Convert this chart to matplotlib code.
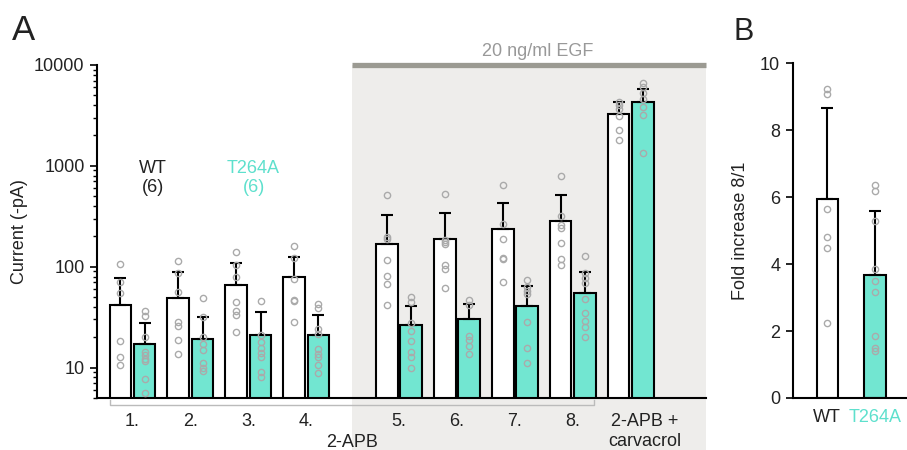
import numpy as np
import matplotlib
matplotlib.use("Agg")
import matplotlib.pyplot as plt
from matplotlib.transforms import ScaledTranslation, blended_transform_factory
from matplotlib.patches import Rectangle

plt.rcParams['font.family'] = ['Liberation Sans', 'DejaVu Sans']
plt.rcParams['text.color'] = '#222222'
plt.rcParams['xtick.labelcolor'] = '#222222'
plt.rcParams['ytick.labelcolor'] = '#222222'
plt.rcParams['axes.labelcolor'] = '#222222'

# panel A data: mean, upper error, individual cells (current, -pA)
conditions = ['1.', '2.', '3.', '4.', '5.', '6.', '7.', '8.', '2-APB +\ncarvacrol']
positions = [0, 1, 2, 3, 4.6, 5.6, 6.6, 7.6, 8.6]

wt_mean = [41.4, 49.3, 65.8, 78.4, 167, 188, 238, 285, 3297]
wt_err = [77.8, 87.9, 110, 125, 327, 343, 433, 520, 4266]
wt_points = [
    [106, 71, 54.4, 18.4, 12.8, 10.6],
    [115, 87, 55.7, 28.5, 26, 18.8, 13.5],
    [141, 104, 79.7, 45, 36.6, 33.2, 22.7],
    [160, 121, 75, 46.8, 46, 28.1],
    [509, 198, 188, 117, 80.8, 67.9, 41.4],
    [525, 186, 177, 168, 105, 94, 62],
    [648, 264, 189, 121, 118, 70],
    [802, 320, 262, 240, 173, 118, 105],
    [4270, 3985, 3700, 3100, 2255, 1824],
]

mut_mean = [17.1, 19.2, 21.0, 20.9, 26.4, 30.1, 41.1, 54.4, 4335]
mut_err = [27.7, 31.8, 35.6, 33.0, 41.1, 42.4, 64.9, 88.5, 5830]
mut_points = [
    [36.6, 32.5, 20, 14.2, 13.2, 12.1, 11.7, 7.7, 5.6],
    [48.6, 31.5, 20, 17.1, 15, 11, 9.8, 9.3],
    [46, 21, 18.1, 15.5, 13.9, 12.7, 9.1, 8.1],
    [42.4, 39.3, 24.2, 21.4, 15.2, 13.7, 12.6, 10.6, 8.8],
    [49.7, 45, 27.5, 23.1, 18.4, 14.4, 12.7, 10],
    [46.8, 41.7, 20.7, 18.8, 16.5, 13.7],
    [73.8, 62.4, 57.8, 53.6, 28.1, 15.8, 11],
    [129, 85.9, 76.6, 68.4, 47.9, 35.1, 29, 25.1, 20],
    [6690, 6055, 5280, 4645, 3840, 3178, 1346],
]

# panel B data: fold increase 8/1
fold_groups = ['WT', 'T264A']
fold_mean = [5.93, 3.67]
fold_err = [8.66, 5.59]
fold_points = [
    [9.24, 9.09, 5.64, 4.82, 4.47, 2.25],
    [6.36, 6.19, 5.28, 3.84, 3.5, 3.18, 1.86, 1.49, 1.39],
]

TEAL = '#72e6d1'
TEAL_TXT = '#5ee0cd'
PT_COL = '#aaaaaa'
FS = 13


def draw_group(ax, x, mean, err, pts, color, width):
    ax.bar(x, mean, width=width, color=color, edgecolor='black', linewidth=1.5, zorder=2)
    ax.errorbar(x, mean, yerr=[[0], [err - mean]], fmt='none', ecolor='black',
                elinewidth=1.5, capsize=4, capthick=1.5, zorder=3)
    ax.plot([x] * len(pts), pts, 'o', ms=4.5, mfc='none', mec=PT_COL, mew=1, zorder=4)


fig = plt.figure(figsize=(9.07, 4.5), dpi=100)
axA = fig.add_axes([0.107, 0.1156, 0.671, 0.74])
axB = fig.add_axes([0.874, 0.1156, 0.126, 0.744])

# ---- panel A ----
w = 0.37
off = 0.21
for i, x in enumerate(positions):
    draw_group(axA, x - off, wt_mean[i], wt_err[i], wt_points[i], 'white', w)
    draw_group(axA, x + off, mut_mean[i], mut_err[i], mut_points[i], TEAL, w)

axA.set_yscale('log')
axA.set_ylim(5, 10000)
axA.set_xlim(-0.61, 9.89)
axA.set_yticks([10, 100, 1000, 10000])
axA.set_yticklabels(['10', '100', '1000', '10000'])
axA.set_xticks(positions)
axA.set_xticklabels(conditions)
axA.tick_params(axis='x', length=0, pad=11, labelsize=FS)
axA.tick_params(axis='y', which='major', length=5, width=1.2, labelsize=FS, pad=4)
axA.tick_params(axis='y', which='minor', length=3, width=1)
axA.set_ylabel('Current (-pA)', fontsize=FS, labelpad=4)
for s in ['top', 'right']:
    axA.spines[s].set_visible(False)
for s in ['left', 'bottom']:
    axA.spines[s].set_linewidth(1.5)
axA.patch.set_alpha(0)

lbl = axA.get_xticklabels()[-1]
lbl.set_transform(lbl.get_transform() + ScaledTranslation(0.14, 0, fig.dpi_scale_trans))

trans = blended_transform_factory(axA.transData, axA.transAxes)
# EGF shaded region
axA.add_patch(Rectangle((3.78, -0.16), 9.89 - 3.78, 1.16, transform=trans,
                        facecolor='#eeedeb', edgecolor='none', clip_on=False, zorder=0))
axA.plot([3.78, 9.89], [1, 1], transform=trans, color='#9b9a92', lw=3.8,
         solid_capstyle='butt', clip_on=False, zorder=1)
axA.text(7.0, 1.04, '20 ng/ml EGF', transform=trans, ha='center', va='center',
         fontsize=FS, color='#999999')

# 2-APB bracket
axA.plot([-0.39, -0.39, 7.97, 7.97], [-0.006, -0.021, -0.021, -0.006], transform=trans,
         color='#bbbbbb', lw=1, clip_on=False)
axA.text(3.79, -0.135, '2-APB', transform=trans, ha='center', va='center', fontsize=FS)

axA.text(0.35, 760, 'WT\n(6)', ha='center', va='center', fontsize=FS, linespacing=1.1)
axA.text(2.09, 760, 'T264A\n(6)', ha='center', va='center', fontsize=FS,
         color=TEAL_TXT, linespacing=1.1)

# ---- panel B ----
draw_group(axB, 0, fold_mean[0], fold_err[0], fold_points[0], 'white', 0.45)
draw_group(axB, 1, fold_mean[1], fold_err[1], fold_points[1], TEAL, 0.45)
axB.set_ylim(0, 10)
axB.set_xlim(-0.726, 1.674)
axB.set_yticks([0, 2, 4, 6, 8, 10])
axB.set_xticks([0, 1])
axB.set_xticklabels(fold_groups)
axB.get_xticklabels()[1].set_color(TEAL_TXT)
axB.tick_params(axis='x', length=0, pad=8, labelsize=FS)
axB.tick_params(axis='y', length=5, width=1.2, labelsize=FS, pad=4)
axB.set_ylabel('Fold increase 8/1', fontsize=FS, labelpad=8)
for s in ['top', 'right']:
    axB.spines[s].set_visible(False)
for s in ['left', 'bottom']:
    axB.spines[s].set_linewidth(1.5)

fig.text(12 / 907, 1 - 30 / 450, 'A', fontsize=25, va='center', ha='left')
fig.text(734 / 907, 1 - 32 / 450, 'B', fontsize=22, va='center', ha='left')

fig.savefig('out.png', dpi=100)
